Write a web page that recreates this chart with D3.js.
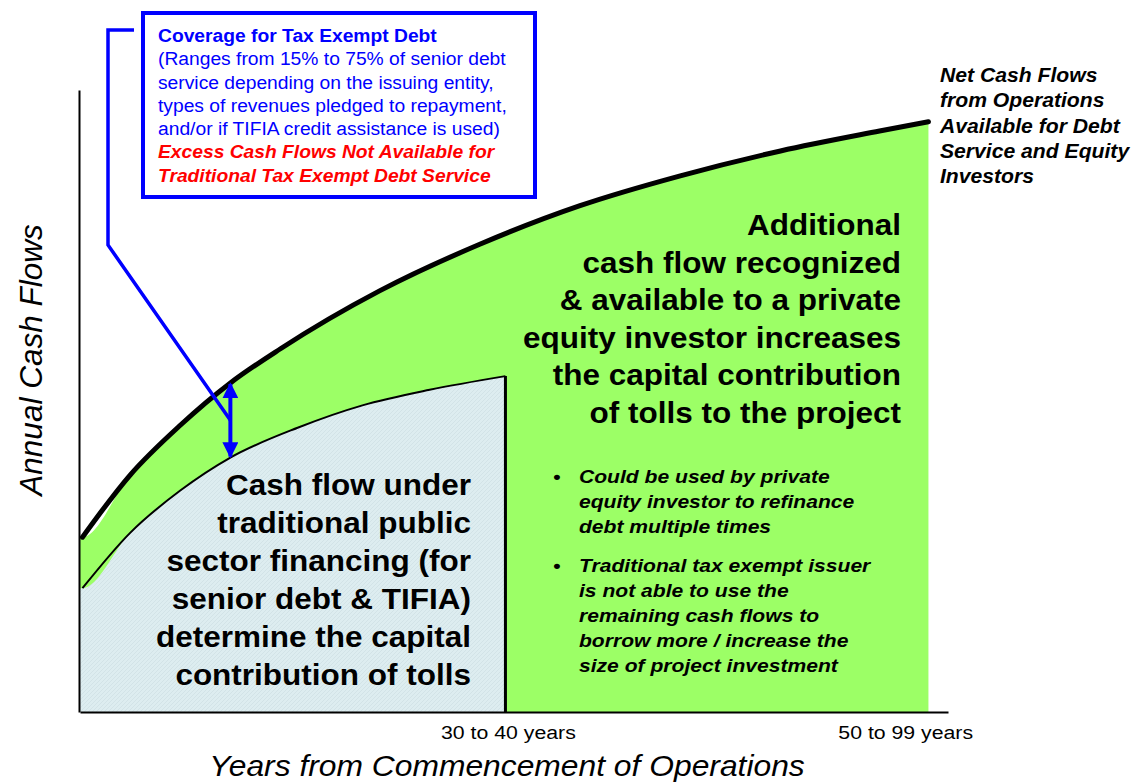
<!DOCTYPE html>
<html>
<head>
<meta charset="utf-8">
<script src="https://cdn.jsdelivr.net/npm/d3@7"></script>
<style>
  body { margin: 0; background: #fff; }
  svg { display: block; font-family: "Liberation Sans", Arial, sans-serif; }
  .big { font-size: 30px; font-weight: bold; fill: #000; }
  .bullet { font-size: 18.5px; font-weight: bold; font-style: italic; fill: #000; }
</style>
</head>
<body>
<svg id="chart" width="1133" height="782"></svg>
<script>
// net cash flows from operations (years, relative cash flow)
const years = [0.2, 4.1, 8.2, 12.3, 16.4, 24.5, 32.7, 40.9, 49.1, 57.3, 65.4, 69.4]
const netCashFlow = [28.1, 38.1, 46.1, 52.9, 58.4, 67.7, 75.2, 81.4, 86.2, 90.2, 93.4, 94.9]

// cash flow under traditional public sector financing
const tradYears = [0.2, 4.1, 8.2, 12.3, 17.8, 23.1, 28.6, 34.8]
const tradCashFlow = [19.9, 28.8, 35.6, 40.9, 45.7, 49.3, 51.8, 54.0]

const tickYears = [35, 67.5]
const tickLabels = ['30 to 40 years', '50 to 99 years']
const coverageYear = 12.3

const calloutLines = [
    {t: 'Coverage for Tax Exempt Debt', c: 'head'},
    {t: '(Ranges from 15% to 75% of senior debt', c: 'body'},
    {t: 'service depending on the issuing entity,', c: 'body'},
    {t: 'types of revenues pledged to repayment,', c: 'body'},
    {t: 'and/or if TIFIA credit assistance is used)', c: 'body'},
    {t: 'Excess Cash Flows Not Available for', c: 'red'},
    {t: 'Traditional Tax Exempt Debt Service', c: 'red'}
]
const netLabel = ['Net Cash Flows', 'from Operations', 'Available for Debt', 'Service and Equity', 'Investors']
const greenText = ['Additional', 'cash flow recognized', '& available to a private', 'equity investor increases', 'the capital contribution', 'of tolls to the project']
const blueText = ['Cash flow under', 'traditional public', 'sector financing (for', 'senior debt & TIFIA)', 'determine the capital', 'contribution of tolls']
const bullets = [
    ['Could be used by private', 'equity investor to refinance', 'debt multiple times'],
    ['Traditional tax exempt issuer', 'is not able to use the', 'remaining cash flows to', 'borrow more / increase the', 'size of project investment']
]

const svg = d3.select('#chart')

const x = d3.scaleLinear().domain([0, 71]).range([80, 948])
const y = d3.scaleLinear().domain([0, 100]).range([712, 90])

const net = years.map((d, i) => ({x: d, y: netCashFlow[i]}))
const trad = tradYears.map((d, i) => ({x: d, y: tradCashFlow[i]}))

const defs = svg.append('defs')

const hatch = defs.append('pattern')
    .attr('id', 'hatch')
    .attr('patternUnits', 'userSpaceOnUse')
    .attr('width', 4).attr('height', 4)
hatch.append('rect').attr('width', 4).attr('height', 4).attr('fill', '#ddedf0')
hatch.append('path').attr('d', 'M0,4 L4,0').attr('stroke', '#d2e3e7').attr('stroke-width', 1)

defs.append('marker')
    .attr('id', 'arrowHead')
    .attr('viewBox', '0 0 10 10')
    .attr('refX', 9).attr('refY', 5)
    .attr('markerWidth', 4).attr('markerHeight', 4)
    .attr('markerUnits', 'strokeWidth')
    .attr('orient', 'auto-start-reverse')
    .append('path')
    .attr('d', 'M0,0 L10,5 L0,10 z')
    .attr('fill', '#0000ff')

const area = d3.area()
    .x(d => x(d.x))
    .y0(y(0))
    .y1(d => y(d.y))
    .curve(d3.curveMonotoneX)

const line = d3.line()
    .x(d => x(d.x))
    .y(d => y(d.y))
    .curve(d3.curveMonotoneX)

// green area with a flat left edge on the axis
svg.append('path')
    .datum([{x: 0, y: net[0].y}].concat(net))
    .attr('d', area)
    .attr('fill', '#9cff66')

svg.append('path')
    .datum([{x: 0, y: trad[0].y}].concat(trad))
    .attr('d', area)
    .attr('fill', 'url(#hatch)')

svg.append('path')
    .datum(trad)
    .attr('d', line)
    .attr('fill', 'none')
    .attr('stroke', '#000')
    .attr('stroke-width', 2)

const lastTrad = trad[trad.length - 1]
svg.append('line')
    .attr('x1', x(lastTrad.x)).attr('x2', x(lastTrad.x))
    .attr('y1', y(lastTrad.y)).attr('y2', y(0))
    .attr('stroke', '#000')
    .attr('stroke-width', 3)

svg.append('path')
    .datum(net)
    .attr('d', line)
    .attr('fill', 'none')
    .attr('stroke', '#000')
    .attr('stroke-width', 5)
    .attr('stroke-linecap', 'round')

// axes
const xAxis = svg.append('g')
    .attr('transform', `translate(0,${y(0)})`)
    .call(d3.axisBottom(x).tickValues(tickYears).tickSize(0).tickPadding(14)
        .tickFormat((d, i) => tickLabels[i]))
xAxis.select('.domain').attr('stroke', '#000').attr('stroke-width', 2)
xAxis.selectAll('text')
    .attr('font-size', 19)
    .attr('font-family', '"Liberation Sans", Arial, sans-serif')
    .attr('fill', '#000')
    .attr('transform', 'scale(1.12,1)')

const yAxis = svg.append('g')
    .attr('transform', `translate(${x(0) - 1},0)`)
    .call(d3.axisLeft(y).tickValues([]).tickSizeOuter(0))
yAxis.select('.domain').attr('stroke', '#000').attr('stroke-width', 2)

svg.append('text')
    .attr('transform', 'translate(507,776) scale(1.06,1)')
    .attr('text-anchor', 'middle')
    .attr('font-size', 30)
    .attr('font-style', 'italic')
    .text('Years from Commencement of Operations')

svg.append('text')
    .attr('transform', 'translate(42,360) rotate(-90)')
    .attr('text-anchor', 'middle')
    .attr('font-size', 31.5)
    .attr('font-style', 'italic')
    .text('Annual Cash Flows')

// coverage arrow
const ci = years.indexOf(coverageYear)
const ti = tradYears.indexOf(coverageYear)
const ax = x(coverageYear)
const ayTop = y(netCashFlow[ci])
const ayBot = y(tradCashFlow[ti])
svg.append('line')
    .attr('x1', ax).attr('x2', ax)
    .attr('y1', ayTop + 1).attr('y2', ayBot - 1)
    .attr('stroke', '#0000ff')
    .attr('stroke-width', 4)
    .attr('marker-start', 'url(#arrowHead)')
    .attr('marker-end', 'url(#arrowHead)')

// callout connector
svg.append('polyline')
    .attr('points', [[134, 30], [108, 30], [108, 245], [ax, (ayTop + ayBot) / 2]].join(' '))
    .attr('fill', 'none')
    .attr('stroke', '#0000ff')
    .attr('stroke-width', 3.5)

svg.append('rect')
    .attr('x', 143).attr('y', 13)
    .attr('width', 392).attr('height', 184)
    .attr('fill', '#fff')
    .attr('stroke', '#0000ff')
    .attr('stroke-width', 4)

svg.append('g')
    .attr('transform', 'translate(158,0) scale(1.07,1)')
    .selectAll('text')
    .data(calloutLines)
    .enter()
    .append('text')
    .attr('x', 0)
    .attr('y', (d, i) => 42 + i * 23.3)
    .attr('font-size', 18)
    .attr('font-weight', d => d.c === 'body' ? 'normal' : 'bold')
    .attr('font-style', d => d.c === 'red' ? 'italic' : 'normal')
    .attr('fill', d => d.c === 'red' ? '#ff0000' : '#0000ff')
    .text(d => d.t)

svg.append('g')
    .attr('transform', 'translate(940,0) scale(1.085,1)')
    .selectAll('text')
    .data(netLabel)
    .enter()
    .append('text')
    .attr('x', 0)
    .attr('y', (d, i) => 82 + i * 25.3)
    .attr('font-size', 19.5)
    .attr('font-weight', 'bold')
    .attr('font-style', 'italic')
    .text(d => d)

svg.append('g')
    .attr('transform', 'translate(901,0) scale(1.05,1)')
    .selectAll('text')
    .data(greenText)
    .enter()
    .append('text')
    .attr('class', 'big')
    .attr('x', 0)
    .attr('y', (d, i) => 235 + i * 37.6)
    .attr('text-anchor', 'end')
    .text(d => d)

svg.append('g')
    .attr('transform', 'translate(471,0) scale(1.05,1)')
    .selectAll('text')
    .data(blueText)
    .enter()
    .append('text')
    .attr('class', 'big')
    .attr('x', 0)
    .attr('y', (d, i) => 495 + i * 38)
    .attr('text-anchor', 'end')
    .text(d => d)

const bulletG = svg.append('g')
    .attr('transform', 'translate(553,0) scale(1.14,1)')
let by = 483
bullets.forEach(b => {
    bulletG.append('text')
        .attr('class', 'bullet')
        .attr('x', 0).attr('y', by)
        .text('\u2022')
    b.forEach((t, i) => {
        bulletG.append('text')
            .attr('class', 'bullet')
            .attr('x', 26 / 1.14)
            .attr('y', by + i * 25)
            .text(t)
    })
    by += b.length * 25 + 14
})
</script>
</body>
</html>
